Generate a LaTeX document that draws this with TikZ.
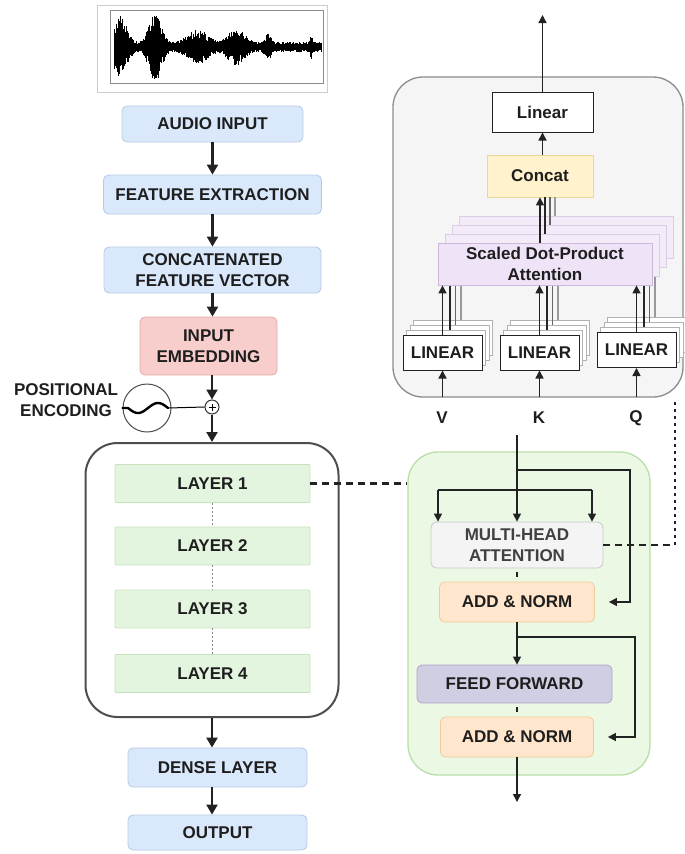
\documentclass[tikz,border=0pt]{standalone}
\usepackage{fontspec}
\setmainfont{Liberation Sans}
\usetikzlibrary{arrows.meta,calc}

\definecolor{txt}{HTML}{1E1E1E}
\definecolor{lineC}{HTML}{222222}
\definecolor{blueF}{HTML}{DAE8FC}
\definecolor{blueD}{HTML}{B4C9E6}
\definecolor{pinkF}{HTML}{F8CECC}
\definecolor{pinkD}{HTML}{E3A9A6}
\definecolor{layF}{HTML}{E4F5DF}
\definecolor{layD}{HTML}{C6E2BD}
\definecolor{encF}{HTML}{EAF8E4}
\definecolor{encD}{HTML}{B8DEA9}
\definecolor{grayF}{HTML}{F5F5F5}
\definecolor{grayD}{HTML}{8C8C8C}
\definecolor{stackD}{HTML}{4D4D4D}
\definecolor{yelF}{HTML}{FFF2CC}
\definecolor{yelD}{HTML}{EAD898}
\definecolor{purF}{HTML}{EFE3F7}
\definecolor{purD}{HTML}{CDB8DB}
\definecolor{mhaF}{HTML}{F4F4F4}
\definecolor{mhaD}{HTML}{C9C9C9}
\definecolor{orgF}{HTML}{FFE6CC}
\definecolor{orgD}{HTML}{F2CB98}
\definecolor{ffF}{HTML}{D0CEE2}
\definecolor{ffD}{HTML}{ABA8CB}

% smooth envelope bump used for the waveform
\pgfmathdeclarefunction{bump}{3}{%
  \begingroup
  \pgfmathparse{min(abs(#1-#2)/#3,5)}%
  \pgfmathparse{exp(-\pgfmathresult*\pgfmathresult)}%
  \pgfmathsmuggle\pgfmathresult
  \endgroup}

\tikzset{
  lbl/.style={font=\bfseries\fontsize{17}{21}\selectfont, text=txt, align=center, inner sep=0pt},
  sz/.style 2 args={minimum width=#1pt, minimum height=#2pt},
  blk/.style={lbl, rounded corners=5pt, line width=0.8pt},
  bluebox/.style={blk, fill=blueF, draw=blueD},
  pinkbox/.style={blk, fill=pinkF, draw=pinkD},
  laybox/.style={blk, rounded corners=1pt, fill=layF, draw=layD},
  sqbox/.style={lbl, line width=1pt, fill=white, draw=lineC},
  yelbox/.style={lbl, line width=0.8pt, fill=yelF, draw=yelD},
  attbox/.style={lbl, line width=0.8pt, fill=purF, draw=purD},
  attback/.style={line width=0.7pt, fill=purF!70!white, draw=purD!70!white, inner sep=0pt},
  linback/.style={line width=0.7pt, fill=white, draw=black!30, inner sep=0pt},
  mhabox/.style={blk, rounded corners=6pt, fill=mhaF, draw=mhaD, text=black!75},
  orgbox/.style={blk, fill=orgF, draw=orgD},
  ffbox/.style={blk, fill=ffF, draw=ffD},
  flow/.style={line width=2.2pt, draw=lineC, -{Triangle[length=10pt,width=11pt]}},
  rflow/.style={line width=1.5pt, draw=lineC, -{Triangle[length=8pt,width=8pt]}},
  rline/.style={line width=1.5pt, draw=lineC},
  shortdash/.style={line width=1.5pt, draw=lineC, dash pattern=on 0pt off 4pt on 5pt off 20pt},
  longdash/.style={line width=2.2pt, draw=lineC, dash pattern=on 7pt off 5pt},
  dotdash/.style={line width=2.6pt, draw=lineC, dash pattern=on 3.5pt off 3.5pt},
  layerdots/.style={line width=1pt, draw=black!45, dash pattern=on 2pt off 2pt},
}

\begin{document}
\begin{tikzpicture}[x=1pt, y=-1pt]
\useasboundingbox (0,0) rectangle (685,854);

% ---------------- waveform plot ----------------
\draw[black!20, line width=0.8pt] (97,5) rectangle (327,92);
\draw[black!45, line width=0.5pt] (110,10) rectangle (323,83);
\pgfmathsetseed{11}
\foreach \i in {0,...,415} {
  \pgfmathsetmacro\xx{114+0.5*\i}
  \pgfmathsetmacro\env{5+27*bump(\xx,120,9)+32*bump(\xx,155,8)+13*bump(\xx,197,13)+14*bump(\xx,236,11)+9*bump(\xx,268,4)+11*bump(\xx,311,1.3)}
  \pgfmathsetmacro\up{\env*(0.45+0.55*rnd)}
  \pgfmathsetmacro\dn{\env*(0.45+0.55*rnd)}
  \draw[line width=0.9pt, black] (\xx,47-\up) -- (\xx,47+\dn);
}

% ---------------- left column ----------------
\node[bluebox, sz={181}{36}] (audio) at (212.5,124) {AUDIO INPUT};
\node[bluebox, sz={218}{39}] (feat) at (212.5,194.5) {FEATURE EXTRACTION};
\node[bluebox, sz={217}{46}] (cvec) at (212.5,270) {CONCATENATED\\FEATURE VECTOR};
\node[pinkbox, sz={137}{58}] (emb) at (208.5,346) {INPUT\\EMBEDDING};

\node[circle, draw=black!70, line width=1pt, fill=white, minimum size=48pt, inner sep=0pt] (pe) at (147,408) {};
\node[circle, draw=black!80, line width=1pt, fill=white, minimum size=14pt, inner sep=0pt] (plus) at (212,407) {};
\draw[line width=0.9pt] ([yshift=-3.5pt]plus.center) -- ([yshift=3.5pt]plus.center);
\draw[line width=0.9pt] ([xshift=-3.5pt]plus.center) -- ([xshift=3.5pt]plus.center);
\coordinate (waveEnd) at (168,408);
\draw[line width=2.4pt, line cap=round] (pe.west) -- (128,408)
  -- plot[domain=0:360, samples=41] ({128+\x/9}, {408+5*sin(\x)});
\draw[line width=1pt] (waveEnd) -- (plus.west);
\node[lbl] (petxt) at (66,400) {POSITIONAL\\ENCODING};

\node[draw=stackD, line width=2pt, rounded corners=32pt, sz={253}{274}, inner sep=0pt] (stack) at (212,580) {};
\node[laybox, sz={195}{38}] (l1) at (212.5,483.5) {LAYER 1};
\node[laybox, sz={195}{38}] (l2) at (212.5,546) {LAYER 2};
\node[laybox, sz={195}{38}] (l3) at (212.5,609) {LAYER 3};
\node[laybox, sz={195}{38}] (l4) at (212.5,673.5) {LAYER 4};
\draw[layerdots] (l1.south) -- (l2.north);
\draw[layerdots] (l2.south) -- (l3.north);
\draw[layerdots] (l3.south) -- (l4.north);

\node[bluebox, sz={179}{39}] (dense) at (217.5,767.5) {DENSE LAYER};
\node[bluebox, sz={179}{35}] (out) at (217.5,832.5) {OUTPUT};

\draw[flow] (audio.south) -- (audio.south |- feat.north);
\draw[flow] (feat.south) -- (feat.south |- cvec.north);
\draw[flow] (cvec.south) -- (cvec.south |- emb.north);
\draw[flow] (plus.north |- emb.south) -- (plus.north);
\draw[flow] (plus.south) -- (plus.south |- stack.north);
\draw[flow] (stack.south) -- (stack.south |- dense.north);
\draw[flow] (stack.south |- dense.south) -- (stack.south |- out.north);

% ---------------- multi-head attention block ----------------
\node[draw=grayD, fill=grayF, line width=1.3pt, rounded corners=30pt, sz={290}{320}, inner sep=0pt] (mhbox) at (538,237) {};
\node[sqbox, sz={101}{40}] (linOut) at (542.5,112) {Linear};
\node[yelbox, sz={106}{42}] (concatN) at (540,176) {Concat};
\coordinate (outTop) at (542.5,15);
\draw[rflow] (linOut.north) -- (outTop);
\draw[rflow] (concatN.north -| linOut.south) -- (linOut.south);

% stacked heads, drawn back to front
\foreach \k/\sh in {3/40,2/60,1/85} {
  \node[attback, sz={214}{42}] (att\k) at ({545+7*\k},{264-9*\k}) {};
  \node[linback, sz={79}{35}] (linV\k) at ({442.5+3.5*\k},{352.5-5*\k}) {};
  \node[linback, sz={79}{35}] (linK\k) at ({539.5+3.5*\k},{352.5-5*\k}) {};
  \node[linback, sz={79}{35}] (linQ\k) at ({636.5+3.5*\k},{350-5*\k}) {};
  \pgfmathsetmacro\cs{-5-2*\k}
  \pgfmathsetmacro\ls{2+2*\k}
  \draw[line width=1.1pt, draw=black!\sh] ([xshift=\ls pt]linV\k.north) -- ([xshift=\ls pt]linV\k.north |- att\k.south);
  \draw[line width=1.1pt, draw=black!\sh] ([xshift=\ls pt]linK\k.north) -- ([xshift=\ls pt]linK\k.north |- att\k.south);
  \draw[line width=1.1pt, draw=black!\sh] ([xshift=\ls pt]linQ\k.north) -- ([xshift=\ls pt]linQ\k.north |- att\k.south);
  \draw[line width=1.1pt, draw=black!\sh] ([xshift=\cs pt]att\k.north) -- ([xshift=\cs pt]att\k.north |- concatN.south);
}
\node[attbox, sz={214}{42}] (att0) at (545,264) {Scaled Dot-Product\\Attention};
\node[sqbox, sz={79}{35}] (linV0) at (442.5,352.5) {LINEAR};
\node[sqbox, sz={79}{35}] (linK0) at (539.5,352.5) {LINEAR};
\node[sqbox, sz={79}{35}] (linQ0) at (636.5,350) {LINEAR};
\draw[rflow] (linV0.north) -- (linV0.north |- att0.south);
\draw[rflow] (linK0.north) -- (linK0.north |- att0.south);
\draw[rflow] (linQ0.north) -- (linQ0.north |- att0.south);
\draw[rflow] ([xshift=-5pt]att0.north) -- ([xshift=-5pt]att0.north |- concatN.south);

\coordinate (vIn) at (442.5,397);
\coordinate (kIn) at (539.5,397);
\coordinate (qIn) at (636.5,397);
\draw[rflow] (vIn) -- (linV0.south);
\draw[rflow] (kIn) -- (linK0.south);
\draw[rflow] (qIn) -- (linQ0.south);
\node[lbl] (vLab) at (442,418) {V};
\node[lbl] (kLab) at (539,418) {K};
\node[lbl] (qLab) at (636,418) {Q};

% ---------------- encoder layer ----------------
\node[draw=encD, fill=encF, line width=1.3pt, rounded corners=30pt, sz={242}{323}, inner sep=0pt] (enc) at (529,613.5) {};
\node[mhabox, sz={172}{46}] (mha) at (517,545) {MULTI-HEAD\\ATTENTION};
\node[orgbox, sz={155}{40}] (add1) at (517,602) {ADD \& NORM};
\node[ffbox, sz={195}{38}] (ff) at (514.5,684) {FEED FORWARD};
\node[orgbox, sz={153}{40}] (add2) at (517,737) {ADD \& NORM};

\coordinate (kTop) at (517,435);
\coordinate (br1) at (517,470);
\coordinate (res1) at (630,470);
\coordinate (mhaL) at (438,490);
\coordinate (mhaR) at (592,490);
\coordinate (br3) at (517,637);
\coordinate (res2) at (635,637);
\coordinate (encOut) at (517,802);

\draw[rflow] (kTop) -- (mha.north);
\draw[rflow, shorten >=14pt] (br1) -- (res1) |- (add1.east);
\draw[rline] (mhaL) -- (mhaR);
\draw[rflow] (mhaL) -- (mhaL |- mha.north);
\draw[rflow] (mhaR) -- (mhaR |- mha.north);
\draw[shortdash] (mha.south) -- (add1.north);
\draw[rflow] (add1.south) -- (add1.south |- ff.north);
\draw[rflow, shorten >=14pt] (br3) -- (res2) |- (add2.east);
\draw[shortdash] (add2.north |- ff.south) -- (add2.north);
\draw[rflow] (add2.south) -- (encOut);

% dashed links between the blocks
\coordinate (dashCorner) at (675,545);
\coordinate (dashTop) at (675,398);
\draw[longdash] (l1.east) -- (l1.east -| enc.west);
\draw[longdash] (mha.east) -- (dashCorner);
\draw[dotdash] (dashCorner) -- (dashTop);

\end{tikzpicture}
\end{document}
